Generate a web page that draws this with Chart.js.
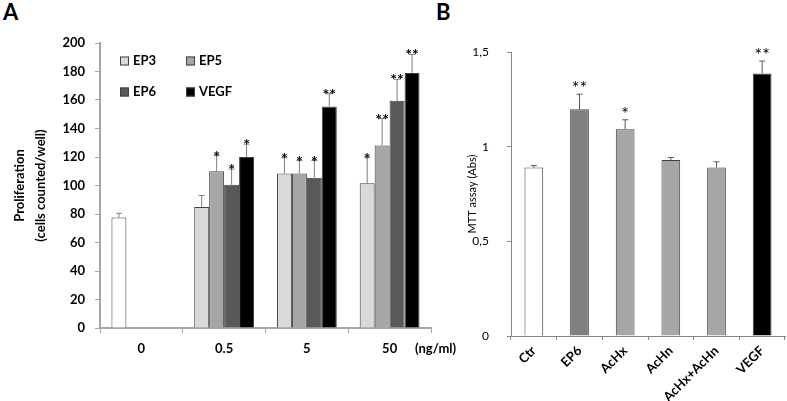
<!DOCTYPE html>
<html>
<head>
<meta charset="utf-8">
<script src="https://cdn.jsdelivr.net/npm/chart.js@4.4.0/dist/chart.umd.min.js"></script>
<style>
  body { margin: 0; background: #fff; width: 787px; height: 401px; position: relative; overflow: hidden; }
  canvas { position: absolute; top: 0; }
  #chartA { left: 0; }
  #chartB { left: 455px; }
  .panel { position: absolute; font: bold 22px Lato, sans-serif; color: #000; }
</style>
</head>
<body>
<div class="panel" style="left:3px;top:-2px">A</div>
<div class="panel" style="left:436px;top:-2px">B</div>
<canvas id="chartA" width="470" height="401"></canvas>
<canvas id="chartB" width="332" height="401"></canvas>
<script>
// panel A - proliferation (cells counted/well)
var doses = ['0', '0.5', '5', '50'];
var ep3 = [77.5, 85, 108.5, 101.5];
var ep5 = [null, 110, 108.5, 128];
var ep6 = [null, 100.5, 105.5, 159.5];
var vegf = [null, 120, 155.5, 179];
var ep3Err = [3, 8, 11, 18];
var ep5Err = [0, 11, 9, 19];
var ep6Err = [0, 11, 12, 15];
var vegfErr = [0, 9, 9, 13];
var ep3Stars = ['', '', '*', '*'];
var ep5Stars = ['', '*', '*', '**'];
var ep6Stars = ['', '*', '*', '**'];
var vegfStars = ['', '*', '**', '**'];
var ep3Colors = ['#ffffff', '#d9d9d9', '#d9d9d9', '#d9d9d9'];

// panel B - MTT assay
var groups = ['Ctr', 'EP6', 'AcHx', 'AcHn', 'AcHx+AcHn', 'VEGF'];
var mtt = [0.89, 1.197, 1.092, 0.93, 0.89, 1.387];
var mttErr = [0.01, 0.08, 0.05, 0.013, 0.03, 0.065];
var mttStars = ['', '**', '*', '', '', '**'];
var mttColors = ['#ffffff', '#7f7f7f', '#a6a6a6', '#a6a6a6', '#a6a6a6', '#000000'];
var yTicksB = ['0', '0,5', '1', '1,5'];

// error bars + significance stars, read from dataset.errors / dataset.stars
var errorBars = {
    id: 'errorBars',
    afterDatasetsDraw: function (chart, args, opts) {
        var ctx = chart.ctx;
        var yScale = chart.scales.y;
        chart.data.datasets.forEach(function (ds, i) {
            var meta = chart.getDatasetMeta(i);
            meta.data.forEach(function (bar, j) {
                var v = ds.data[j];
                if (v === null || v === undefined) return;
                var top = yScale.getPixelForValue(v + ds.errors[j]);
                ctx.save();
                ctx.strokeStyle = opts.color;
                ctx.lineWidth = 1;
                ctx.beginPath();
                ctx.moveTo(bar.x, bar.y);
                ctx.lineTo(bar.x, top);
                ctx.moveTo(bar.x - opts.cap, top);
                ctx.lineTo(bar.x + opts.cap, top);
                ctx.stroke();
                if (ds.stars[j]) {
                    ctx.fillStyle = '#000';
                    ctx.font = opts.starFont;
                    ctx.textAlign = 'center';
                    ctx.textBaseline = 'alphabetic';
                    ctx.fillText(ds.stars[j], bar.x, top + opts.starShift);
                }
                ctx.restore();
            });
        });
    }
};

// legend inside the plot area (2 x 2) and the unit label
var panelALabels = {
    id: 'panelALabels',
    afterDraw: function (chart) {
        var ctx = chart.ctx;
        var a = chart.chartArea;
        var items = [
            ['EP3', '#d9d9d9', 0, 0],
            ['EP5', '#a6a6a6', 1, 0],
            ['EP6', '#595959', 0, 1],
            ['VEGF', '#000000', 1, 1]
        ];
        ctx.save();
        ctx.font = 'bold 13px Lato, sans-serif';
        ctx.textBaseline = 'middle';
        ctx.textAlign = 'left';
        items.forEach(function (it) {
            var x = a.left + 20 + it[2] * 66;
            var y = a.top + 18 + it[3] * 31;
            ctx.fillStyle = it[1];
            ctx.fillRect(x, y - 4.5, 9, 9);
            ctx.strokeStyle = '#404040';
            ctx.lineWidth = 1;
            ctx.strokeRect(x + 0.5, y - 4, 8, 8);
            ctx.fillStyle = '#000';
            ctx.fillText(it[0], x + 13, y);
        });
        ctx.fillText('(ng/ml)', a.right - 16, a.bottom + 21);
        ctx.restore();
    }
};

var boldA = { family: 'Lato, sans-serif', size: 13, weight: 'bold' };

new Chart(document.getElementById('chartA'), {
    type: 'bar',
    data: {
        labels: doses,
        datasets: [
            { label: 'EP3', data: ep3, errors: ep3Err, stars: ep3Stars, backgroundColor: ep3Colors },
            { label: 'EP5', data: ep5, errors: ep5Err, stars: ep5Stars, backgroundColor: '#a6a6a6' },
            { label: 'EP6', data: ep6, errors: ep6Err, stars: ep6Stars, backgroundColor: '#595959' },
            { label: 'VEGF', data: vegf, errors: vegfErr, stars: vegfStars, backgroundColor: '#000000' }
        ]
    },
    options: {
        responsive: false,
        animation: false,
        layout: { padding: { top: 43, right: 39, left: 0, bottom: 0 } },
        datasets: { bar: { borderColor: '#404040', borderWidth: 1, categoryPercentage: 0.723, barPercentage: 1 } },
        plugins: {
            legend: { display: false },
            tooltip: { enabled: false },
            errorBars: { color: '#7f7f7f', cap: 3, starFont: 'bold 16px Lato, sans-serif', starShift: 6 }
        },
        scales: {
            x: {
                grid: { drawOnChartArea: false, color: '#a6a6a6', tickLength: 5, lineWidth: 1 },
                border: { color: '#a6a6a6', width: 2 },
                ticks: { color: '#000', font: boldA, padding: 8 },
                afterFit: function (s) { s.height = 73; }
            },
            y: {
                min: 0, max: 200,
                grid: { drawOnChartArea: false, color: '#a6a6a6', tickLength: 5 },
                border: { color: '#a6a6a6', width: 2 },
                ticks: { stepSize: 20, color: '#000', font: boldA, padding: 10 },
                title: {
                    display: true,
                    text: ['Proliferation', '(cells counted/well)'],
                    color: '#000',
                    font: { family: 'Lato, sans-serif', size: 13, weight: 'bold', lineHeight: 1.6 },
                    padding: { top: 9.5, bottom: 0 }
                },
                afterFit: function (s) { s.width = 100; }
            }
        }
    },
    plugins: [errorBars, panelALabels]
});

new Chart(document.getElementById('chartB'), {
    type: 'bar',
    data: {
        labels: groups,
        datasets: [
            { label: 'MTT', data: mtt, errors: mttErr, stars: mttStars, backgroundColor: mttColors }
        ]
    },
    options: {
        responsive: false,
        animation: false,
        layout: { padding: { top: 52, right: 2, left: 0, bottom: 0 } },
        datasets: { bar: { borderColor: '#404040', borderWidth: 1, categoryPercentage: 1, barPercentage: 0.41 } },
        plugins: {
            legend: { display: false },
            tooltip: { enabled: false },
            errorBars: { color: '#595959', cap: 3, starFont: '18px Lato, sans-serif', starShift: 0 }
        },
        scales: {
            x: {
                grid: { drawOnChartArea: false, color: '#868686', tickLength: 4 },
                border: { color: '#868686', width: 1 },
                ticks: {
                    color: '#000', font: { family: 'Lato, sans-serif', size: 13, weight: 'bold' },
                    minRotation: 45, maxRotation: 45, autoSkip: false, padding: 3
                },
                afterFit: function (s) { s.height = 65; }
            },
            y: {
                min: 0, max: 1.5,
                grid: { drawOnChartArea: false, color: '#868686', tickLength: 4 },
                border: { color: '#868686', width: 1 },
                ticks: {
                    stepSize: 0.5, color: '#000', padding: 18,
                    font: { family: 'Lato, sans-serif', size: 12 },
                    callback: function (v, i) { return yTicksB[i]; }
                },
                title: {
                    display: true,
                    text: 'MTT assay (Abs)',
                    color: '#000',
                    font: { family: 'Lato, sans-serif', size: 11 },
                    padding: { top: 11, bottom: 0 }
                },
                afterFit: function (s) { s.width = 56; }
            }
        }
    },
    plugins: [errorBars]
});
</script>
</body>
</html>
